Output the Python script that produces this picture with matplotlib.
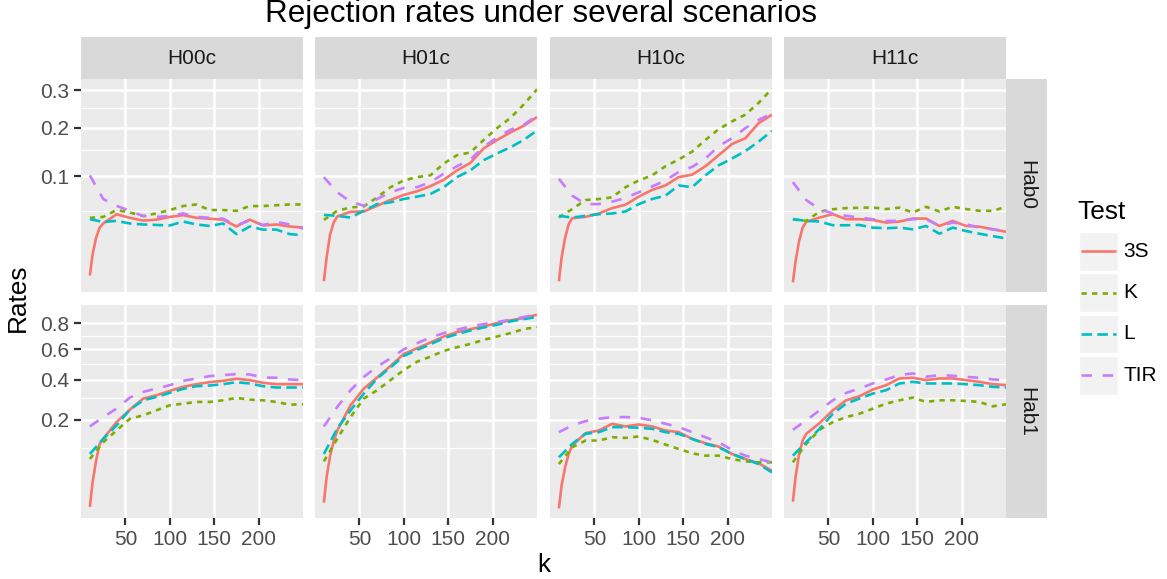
#!/usr/bin/env python3

import matplotlib
matplotlib.use("Agg")
import matplotlib.pyplot as plt
import numpy as np
from matplotlib.patches import Rectangle
from matplotlib.lines import Line2D

plt.rcParams['font.family'] = ['Liberation Sans', 'DejaVu Sans']

W, H = 1167, 579

# Number of components k; the 3S test has a few extra early points
k = [10, 25, 40, 55, 70, 85, 100, 115, 130, 145, 160, 175, 190, 205, 220, 235, 250]
k_3s = [10, 13, 17, 21] + k[1:]

# Null hypothesis Hab0
h00c_hab0_3s = [.0025, .0112, .0229, .0319, .036, .046, .042, .039, .040, .043,
                .045, .042, .041, .040, .033, .040, .034, .035, .033, .032]
h00c_hab0_k = [.042, .043, .051, .048, .044, .047, .051, .056, .058, .051,
               .051, .050, .056, .056, .057, .058, .058]
h00c_hab0_l = [.0405, .0376, .0387, .036, .035, .0345, .034, .038, .035, .0335,
               .036, .026, .033, .030, .030, .026, .025]
h00c_hab0_tir = [.1017, .0653, .0563, .050, .044, .043, .044, .047, .043, .042,
                 .041, .034, .0395, .0345, .0376, .035, .031]

h01c_hab0_3s = [.0012, .0094, .0257, .0369, .0434, .0489, .0493, .0564, .0639, .071,
                .0764, .0841, .0944, .1106, .1243, .1533, .1716, .1885, .2046, .2265]
h01c_hab0_k = [.0397, .0501, .0542, .0555, .0676, .0825, .0933, .0989, .1018, .1231,
               .1394, .1449, .1716, .1989, .2239, .2595, .3027]
h01c_hab0_l = [.0453, .0442, .0423, .0501, .0585, .0608, .0653, .0686, .0724, .0825,
               .0989, .1106, .1295, .1429, .1555, .1716, .1933]
h01c_hab0_tir = [.0987, .0748, .0617, .0564, .0653, .0748, .0814, .0825, .0905, .1047,
                 .1181, .1308, .1569, .177, .195, .207, .23]

h10c_hab0_3s = [.0012, .0094, .0229, .0352, .0416, .0431, .0469, .0534, .0577, .0686,
                .0784, .0852, .0989, .1029, .118, .1394, .1627, .1754, .2112, .2325]
h10c_hab0_k = [.0423, .0522, .0639, .0653, .0676, .0825, .0933, .1018, .118, .1308,
               .1464, .1716, .1964, .2154, .2325, .2642, .3047]
h10c_hab0_l = [.0442, .0423, .0442, .0461, .0469, .0493, .0585, .0653, .070, .0852,
               .0825, .1018, .1198, .1327, .1478, .1679, .1925]
h10c_hab0_tir = [.096, .070, .0585, .0585, .0617, .0667, .0749, .0836, .0933, .1077,
                 .1168, .1327, .1583, .1754, .1989, .2195, .2351]

h11c_hab0_3s = [.0010, .0077, .0202, .0319, .0376, .0423, .0461, .0405, .0405, .0397,
                .0369, .038, .0412, .0412, .0335, .0387, .0335, .0328, .0303, .0281]
h11c_hab0_k = [.0405, .0387, .049, .052, .0534, .0538, .0542, .0522, .054, .048,
               .055, .0493, .055, .0522, .0501, .0501, .055]
h11c_hab0_l = [.0405, .0387, .038, .0342, .0342, .0345, .0319, .0313, .0319, .0303,
               .0335, .0263, .0319, .0287, .0263, .0243, .0223]
h11c_hab0_tir = [.0905, .0639, .0522, .0469, .0442, .0423, .0405, .0387, .0387, .0405,
                 .0405, .0335, .0369, .0352, .0319, .0303, .0287]

# Alternative Hab1
h00c_hab1_3s = [.0018, .0243, .0661, .1123, .1285, .1904, .244, .2975, .3147, .3379,
                .36, .375, .3866, .3944, .4063, .3983, .3828, .375, .375, .375]
h00c_hab1_k = [.0702, .1175, .158, .2042, .2186, .241, .2645, .2725, .2807, .2807,
               .289, .3009, .2924, .289, .2807, .2677, .2693]
h00c_hab1_l = [.0831, .1285, .177, .244, .289, .306, .3271, .3488, .3637, .3675,
               .375, .3866, .379, .3637, .3562, .3562, .3562]
h00c_hab1_tir = [.1731, .2113, .2487, .3026, .3325, .3507, .3694, .3944, .4082, .4223,
                 .4284, .4345, .4325, .4142, .4122, .4023, .3983]

h01c_hab1_3s = [.0039, .0321, .0781, .12, .157, .2645, .3507, .4142, .4853, .5666,
                .6071, .6491, .6951, .7293, .7534, .7753, .8028, .8254, .8453, .8742]
h01c_hab1_k = [.0645, .1285, .2113, .2975, .3415, .3983, .4597, .5138, .5479, .5879,
               .6145, .6391, .6693, .6951, .7213, .7534, .7698]
h01c_hab1_l = [.0831, .165, .241, .3235, .4082, .4766, .5525, .595, .6366, .6822,
               .7134, .7427, .767, .789, .8169, .8367, .854]
h01c_hab1_tir = [.1731, .2565, .3415, .418, .481, .5364, .5999, .644, .6873, .7213,
                 .748, .7753, .7946, .8113, .831, .854, .8742]

h10c_hab1_3s = [.0013, .0197, .0511, .0831, .1071, .1482, .158, .1837, .1731, .181,
                .1731, .158, .1518, .1285, .1144, .1041, .0831, .0702, .0599, .0443]
h10c_hab1_k = [.0583, .1021, .1229, .1229, .1341, .1318, .1364, .1251, .1102, .0971,
               .0849, .0787, .0787, .0702, .0645, .0622, .0622]
h10c_hab1_l = [.0744, .1123, .1458, .1518, .1706, .1706, .168, .1642, .1518, .1458,
               .1285, .1123, .1021, .0831, .0702, .0583, .041]
h10c_hab1_tir = [.1518, .177, .1945, .2042, .2113, .2113, .2085, .1973, .1837, .1706,
                 .1518, .1341, .1175, .0943, .0787, .0702, .0622]

h11c_hab1_3s = [.0045, .0321, .0831, .1229, .1458, .1864, .241, .289, .3095, .3452,
                .3694, .4082, .4122, .3983, .4082, .4082, .3983, .3885, .375, .3694]
h11c_hab1_k = [.0622, .1123, .1604, .1904, .2113, .2259, .2487, .2725, .289, .3026,
               .2807, .289, .289, .2857, .2807, .2597, .2693]
h11c_hab1_l = [.0787, .1175, .1642, .2259, .2725, .2975, .3235, .3415, .379, .3885,
               .379, .379, .379, .375, .3694, .36, .3562]
h11c_hab1_tir = [.1604, .1973, .241, .289, .3271, .3507, .379, .4023, .4284, .4387,
                 .418, .4284, .4243, .418, .4122, .4023, .3983]

scenarios = ["H00c", "H01c", "H10c", "H11c"]
hyps = ["Hab0", "Hab1"]
tests = ["3S", "K", "L", "TIR"]

rates = {
    ("H00c", "Hab0"): [h00c_hab0_3s, h00c_hab0_k, h00c_hab0_l, h00c_hab0_tir],
    ("H01c", "Hab0"): [h01c_hab0_3s, h01c_hab0_k, h01c_hab0_l, h01c_hab0_tir],
    ("H10c", "Hab0"): [h10c_hab0_3s, h10c_hab0_k, h10c_hab0_l, h10c_hab0_tir],
    ("H11c", "Hab0"): [h11c_hab0_3s, h11c_hab0_k, h11c_hab0_l, h11c_hab0_tir],
    ("H00c", "Hab1"): [h00c_hab1_3s, h00c_hab1_k, h00c_hab1_l, h00c_hab1_tir],
    ("H01c", "Hab1"): [h01c_hab1_3s, h01c_hab1_k, h01c_hab1_l, h01c_hab1_tir],
    ("H10c", "Hab1"): [h10c_hab1_3s, h10c_hab1_k, h10c_hab1_l, h10c_hab1_tir],
    ("H11c", "Hab1"): [h11c_hab1_3s, h11c_hab1_k, h11c_hab1_l, h11c_hab1_tir],
}

# ggplot default hue palette and linetypes
colors = ["#F8766D", "#7CAE00", "#00BFC4", "#C77CFF"]
styles = ["solid", (0, (2, 2)), (0, (4, 2)), (0, (4, 4))]

y_major = {"Hab0": [0.1, 0.2, 0.3], "Hab1": [0.2, 0.4, 0.6, 0.8]}
y_minor = {"Hab0": [0.05, 0.15, 0.25], "Hab1": [0.1, 0.3, 0.5, 0.7]}


def fwd(y):
  y = np.asarray(y, dtype=float)
  return np.sign(y) * np.sqrt(np.abs(y))


def inv(t):
  t = np.asarray(t, dtype=float)
  return np.sign(t) * t * t


def row_limits(hyp):
  vals = np.concatenate([np.concatenate(rates[(s, hyp)]) for s in scenarios])
  lo, hi = np.sqrt(vals.min()), np.sqrt(vals.max())
  pad = 0.05 * (hi - lo)
  return float(inv(lo - pad)), float(inv(hi + pad))


fig = plt.figure(figsize=(W / 100, H / 100), dpi=100)


def px_axes(x0, y0, w, h):
  return fig.add_axes([x0 / W, 1 - (y0 + h) / H, w / W, h / H])


col_left = [81, 315, 550, 784]
row_top = [79, 305]
pw, ph = 222, 213
lw = 1.9

for r, hyp in enumerate(hyps):
  ylim = row_limits(hyp)
  for c, sc in enumerate(scenarios):
    ax = px_axes(col_left[c], row_top[r], pw, ph)
    ax.set_facecolor("#EBEBEB")
    ax.set_yscale("function", functions=(fwd, inv))
    for i, t in enumerate(tests):
      xs = k_3s if t == "3S" else k
      ax.plot(xs, rates[(sc, hyp)][i], color=colors[i], linestyle=styles[i],
              lw=lw, solid_capstyle="butt", dash_capstyle="butt", zorder=3 + i)
    ax.set_xlim(0, 250)
    ax.set_ylim(*ylim)
    ax.set_xticks([50, 100, 150, 200])
    ax.set_yticks(y_major[hyp])
    ax.set_yticks(y_minor[hyp], minor=True)
    ax.set_xticks([], minor=True)
    ax.set_yticklabels([str(v) for v in y_major[hyp]])
    ax.set_axisbelow(True)
    ax.grid(which="major", color="white", lw=1.8)
    ax.grid(which="minor", axis="y", color="white", lw=0.9)
    for s in ax.spines.values():
      s.set_visible(False)
    ax.tick_params(which="major", length=4.7, width=1.6, color="#333333",
                   labelcolor="#4D4D4D", labelsize=15, pad=4)
    ax.tick_params(which="minor", length=0)
    if c > 0:
      ax.tick_params(axis="y", left=False, labelleft=False)
    if r == 0:
      ax.tick_params(axis="x", bottom=False, labelbottom=False)

    # facet strips
    if r == 0:
      st = px_axes(col_left[c], 37, pw, 42)
      st.set_facecolor("#D9D9D9")
      st.set_xticks([])
      st.set_yticks([])
      for s in st.spines.values():
        s.set_visible(False)
      st.text(0.5, 0.5, sc, ha="center", va="center", fontsize=15,
              color="#1A1A1A", transform=st.transAxes)
  st = px_axes(1006, row_top[r], 41, ph)
  st.set_facecolor("#D9D9D9")
  st.set_xticks([])
  st.set_yticks([])
  for s in st.spines.values():
    s.set_visible(False)
  st.text(0.5, 0.5, hyp, ha="center", va="center", fontsize=15, rotation=-90,
          color="#1A1A1A", transform=st.transAxes)

fig.text(541 / W, 1 - 14 / H, "Rejection rates under several scenarios",
         ha="center", va="center", fontsize=22.6)
fig.text(543.5 / W, 1 - 565 / H, "k", ha="center", va="center", fontsize=18.9)
fig.text(18 / W, 1 - 298 / H, "Rates", ha="center", va="center",
         fontsize=18.9, rotation=90)

# Legend drawn by hand, ggplot style keys
leg = fig.add_axes([0, 0, 1, 1])
leg.set_xlim(0, W)
leg.set_ylim(H, 0)
leg.axis("off")
leg.text(1077, 212, "Test", ha="left", va="center", fontsize=18.9)
for i, t in enumerate(tests):
  y0 = 232 + i * 41.3
  leg.add_patch(Rectangle((1079, y0), 38.7, 38.7, facecolor="#F2F2F2",
                          edgecolor="white", lw=1))
  leg.add_line(Line2D([1081, 1116], [y0 + 19.35] * 2, color=colors[i],
                      linestyle=styles[i], lw=lw, solid_capstyle="butt",
                      dash_capstyle="butt"))
  leg.text(1123, y0 + 19.35, t, ha="left", va="center", fontsize=15)

fig.savefig("out.png", dpi=100)
